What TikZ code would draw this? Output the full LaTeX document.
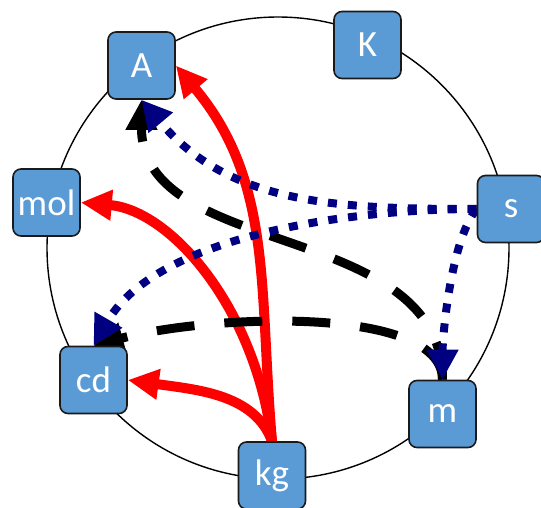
\documentclass[tikz,border=0pt]{standalone}
\usepackage{fontspec}
\setmainfont{Carlito}
\usepackage{tikz}
\usetikzlibrary{arrows.meta,backgrounds}
\definecolor{UnitBlue}{HTML}{5B9BD5}
\definecolor{UnitLine}{HTML}{1A1A1A}
\definecolor{DotNavy}{HTML}{000080}

\begin{document}
\begin{tikzpicture}[
  x=1pt,y=1pt,
  unit/.style={rounded corners=8pt,draw=UnitLine,fill=UnitBlue,line width=1.6pt,
    minimum width=67pt,minimum height=67pt,inner sep=0pt,text=white,
    font=\fontsize{37}{40}\selectfont},
  ring/.style={draw=black,line width=1.4pt},
  mass/.style={-{Triangle[length=31pt,width=29pt]},draw=red,line width=10pt},
  derived/.style={-{Triangle[length=30pt,width=30pt]},draw=black,
    line width=9pt,dash pattern=on 38pt off 30pt},
  timed/.style={-{Triangle[length=30pt,width=30pt]},draw=DotNavy,
    line width=8pt,dash pattern=on 9pt off 11pt}
]
  \useasboundingbox (0,0) rectangle (541,507);

  % base units round the ring
  \node[unit] (A) at (141.5,441.5) {A};
  \node[unit] (K) at (367.5,462) {K};
  \node[unit] (s) at (511,298) {s};
  \node[unit] (m) at (442.5,93) {m};
  \node[unit] (kg) at (272,31.5) {kg};
  \node[unit] (cd) at (93.5,127) {cd};
  \node[unit] (mol) at (46.5,304.5) {mol};

  \begin{scope}[on background layer]
    \draw[ring] (278,259) circle[radius=231pt];

    % depends on kg
    \draw[mass] (kg.north) to[out=95,in=-50] (A.east);
    \draw[mass] (kg.north) .. controls +(97:135) and +(-5:90) .. (mol.east);
    \draw[mass] (kg.north) .. controls +(110:50) and +(-8:70) .. (cd.east);

    % depends on m
    \draw[derived] (m.north) to[out=90,in=-90] (A.south);
    \draw[derived] (m.north) .. controls +(90:75) and +(15:120) .. (cd.north);

    % depends on s
    \draw[timed] (s.west) to[out=180,in=-50] (A.south);
    \draw[timed] (s.west) to[out=180,in=60,looseness=0.8] (cd.north);
    \draw[timed] (s.west) to[out=230,in=90,looseness=0.6] (m.north);
  \end{scope}
\end{tikzpicture}
\end{document}
